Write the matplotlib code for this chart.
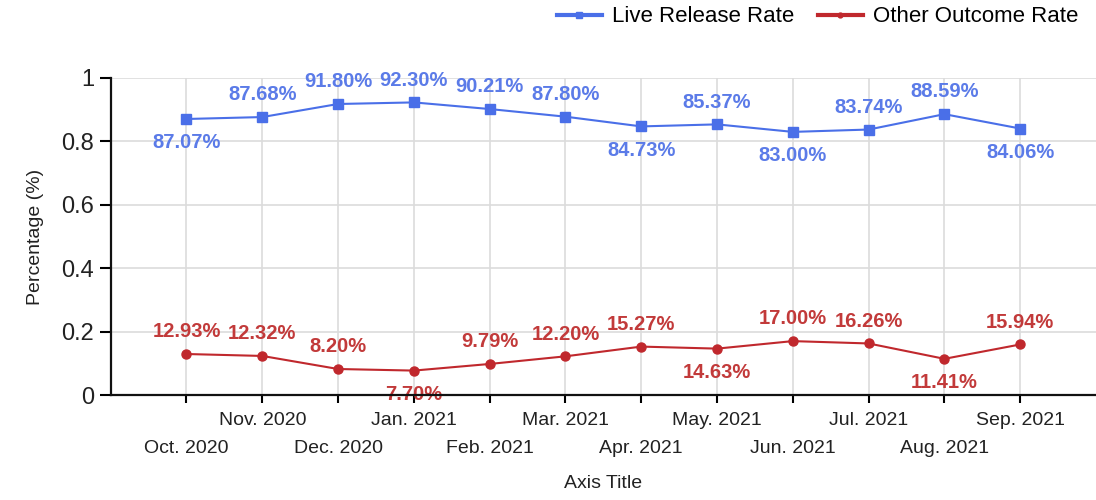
import matplotlib
matplotlib.use("Agg")
import matplotlib.pyplot as plt
from matplotlib.lines import Line2D

months = ["Oct. 2020", "Nov. 2020", "Dec. 2020", "Jan. 2021", "Feb. 2021", "Mar. 2021",
          "Apr. 2021", "May. 2021", "Jun. 2021", "Jul. 2021", "Aug. 2021", "Sep. 2021"]
live_release = [0.8707, 0.8768, 0.9180, 0.9230, 0.9021, 0.8780,
                0.8473, 0.8537, 0.8300, 0.8374, 0.8859, 0.8406]
other_outcome = [0.1293, 0.1232, 0.0820, 0.0770, 0.0979, 0.1220,
                 0.1527, 0.1463, 0.1700, 0.1626, 0.1141, 0.1594]
live_label_side = ["below", "above", "above", "above", "above", "above",
                   "below", "above", "below", "above", "above", "below"]
other_label_side = ["above", "above", "above", "below", "above", "above",
                    "above", "below", "above", "above", "below", "above"]
y_ticks = [0, 0.2, 0.4, 0.6, 0.8, 1]
y_tick_labels = ["0", "0.2", "0.4", "0.6", "0.8", "1"]

BLUE = "#4a6fe8"
BLUE_TXT = "#5b7be8"
RED = "#c0282d"
RED_TXT = "#c23a3a"

plt.rcParams["font.family"] = ["Liberation Sans", "DejaVu Sans"]

fig = plt.figure(figsize=(10.96, 5.0), dpi=100)
ax = fig.add_axes([0.101, 0.21, 0.899, 0.634])

x = list(range(len(months)))
ax.plot(x, live_release, color=BLUE, lw=1.5, marker="s", ms=7, zorder=3)
ax.plot(x, other_outcome, color=RED, lw=1.5, marker="o", ms=6.5, zorder=3)

for xi, v, side in zip(x, live_release, live_label_side):
    off = 16 if side == "above" else -17
    ax.annotate(f"{v*100:.2f}%", (xi, v), xytext=(0, off), textcoords="offset points",
                ha="center", va="center", color=BLUE_TXT, fontsize=14.5, fontweight="bold",
                zorder=4)
for xi, v, side in zip(x, other_outcome, other_label_side):
    off = 16 if side == "above" else -17
    ax.annotate(f"{v*100:.2f}%", (xi, v), xytext=(0, off), textcoords="offset points",
                ha="center", va="center", color=RED_TXT, fontsize=14.5, fontweight="bold",
                zorder=4)

ax.set_xlim(-1, 12)
ax.set_ylim(0, 1)
ax.set_yticks(y_ticks)
ax.set_yticklabels(y_tick_labels, fontsize=17, color="#222222")
ax.set_xticks(x)
ax.set_xticklabels(months, fontsize=14, color="#222222")
ax.tick_params(axis="x", length=6, width=1.5, pad=6)
ax.tick_params(axis="y", length=8, width=1.5, pad=4)
for i, t in enumerate(ax.xaxis.get_major_ticks()):
    if i % 2 == 0:
        t.set_pad(26.5)

ax.grid(True, color="#dcdcdc", lw=1.2)
ax.set_axisbelow(True)
for s in ["top", "right"]:
    ax.spines[s].set_visible(False)
for s in ["left", "bottom"]:
    ax.spines[s].set_linewidth(1.6)
    ax.spines[s].set_color("#111111")
    ax.spines[s].set_zorder(5)

ax.set_ylabel("Percentage (%)", fontsize=14, color="#222222", labelpad=12)
ax.set_xlabel("Axis Title", fontsize=14, color="#222222", labelpad=13)

h1 = Line2D([], [], color=BLUE, lw=3, marker="s", ms=4)
h2 = Line2D([], [], color=RED, lw=3, marker="o", ms=3.5)
fig.legend(handles=[h1, h2], labels=["Live Release Rate", "Other Outcome Rate"],
           loc="center right", bbox_to_anchor=(0.9836, 0.966),
           ncol=2, frameon=False, fontsize=16, handlelength=2.0, columnspacing=1.1,
           handletextpad=0.45, borderpad=0, borderaxespad=0)

fig.savefig("out.png", dpi=100)
